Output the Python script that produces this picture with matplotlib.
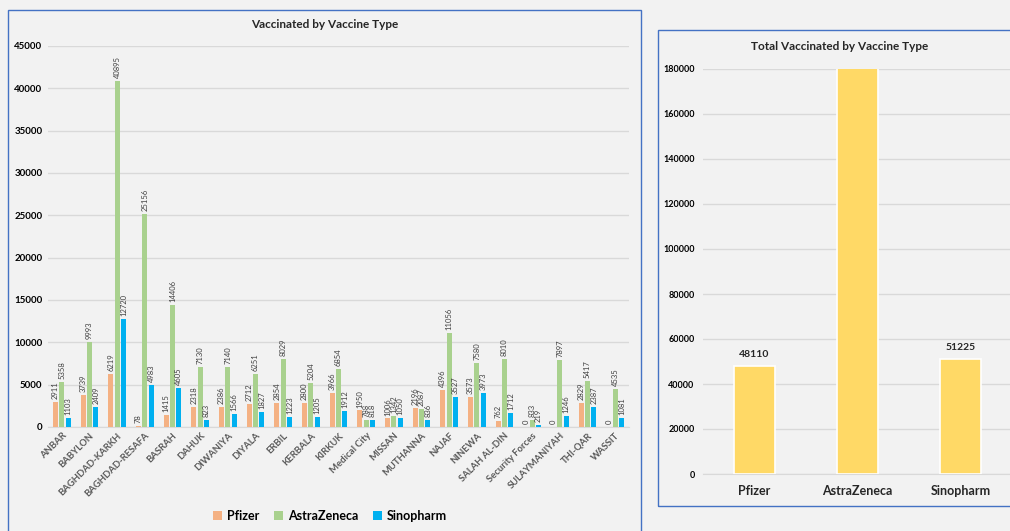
import matplotlib
matplotlib.use("Agg")
import matplotlib.pyplot as plt
import numpy as np
from matplotlib.patches import Rectangle

regions = ["ANBAR", "BABYLON", "BAGHDAD-KARKH", "BAGHDAD-RESAFA", "BASRAH", "DAHUK",
           "DIWANIYA", "DIYALA", "ERBIL", "KERBALA", "KIRKUK", "Medical City", "MISSAN",
           "MUTHANNA", "NAJAF", "NINEWA", "SALAH AL-DIN", "Security Forces",
           "SULAYMANIYAH", "THI-QAR", "WASSIT"]
pfizer = [2911, 3739, 6219, 78, 1415, 2318, 2386, 2712, 2854, 2800, 3966, 1950, 1006,
          2196, 4396, 3573, 762, 0, 0, 2829, 0]
astra = [5358, 9993, 40895, 25156, 14406, 7130, 7140, 6251, 8029, 5204, 6854, 788, 1342,
         2087, 11056, 7580, 8010, 833, 7897, 5417, 4535]
sino = [1103, 2409, 12720, 4983, 4605, 823, 1566, 1827, 1223, 1205, 1912, 818, 1050,
        836, 3527, 3973, 1712, 219, 1246, 2387, 1081]
series_names = ["Pfizer", "AstraZeneca", "Sinopharm"]
series_colors = ["#f4b183", "#a9d18e", "#00b0f0"]

total_names = ["Pfizer", "AstraZeneca", "Sinopharm"]
totals = [48110, 185961, 51225]

plt.rcParams['font.family'] = ['Lato', 'DejaVu Sans']
BG = "#f2f2f2"
fig = plt.figure(figsize=(10.10, 5.31), dpi=100, facecolor=BG)

# panel borders
fig.patches.append(Rectangle((8/1010, -0.05), (641-8)/1010, 1 - 10/531 + 0.05,
                             transform=fig.transFigure, fill=False, edgecolor="#4472c4",
                             linewidth=1.0, zorder=0))
fig.patches.append(Rectangle((658/1010, 1 - 506/531), 0.5, (506-30)/531,
                             transform=fig.transFigure, fill=False, edgecolor="#4472c4",
                             linewidth=1.0, zorder=0))

# ---- left chart
ax = fig.add_axes([48/1010, 1 - 427/531, (629-48)/1010, (427-46)/531])
ax.set_facecolor(BG)
x = np.arange(len(regions))
w = 0.19
off = 0.23
for i, (vals, col) in enumerate(zip([pfizer, astra, sino], series_colors)):
    xs = x + (i - 1) * off
    ax.bar(xs, vals, width=w, color=col, label=series_names[i], zorder=3)
    for xi, v in zip(xs, vals):
        ax.text(xi, v + 350, str(v), rotation=90, ha="center", va="bottom",
                fontsize=5.5, color="#404040", zorder=4)
ax.set_xlim(-0.5, len(regions) - 0.5)
ax.set_ylim(0, 45000)
ax.set_yticks(np.arange(0, 45001, 5000))
ax.yaxis.grid(True, color="#d9d9d9", linewidth=1.0, zorder=0)
ax.set_axisbelow(True)
for s in ["top", "right", "left"]:
    ax.spines[s].set_visible(False)
ax.spines["bottom"].set_color("#d9d9d9")
ax.tick_params(axis="y", length=0, labelsize=7, pad=4)
for lbl in ax.get_yticklabels():
    lbl.set_fontweight("bold")
ax.set_xticks(x)
ax.set_xticklabels(regions, rotation=45, ha="right", rotation_mode="anchor",
                   fontsize=6.8, color="#595959", fontweight="bold")
ax.tick_params(axis="x", length=0, pad=3)
fig.text(325/1010, 1 - 25/531, "Vaccinated by Vaccine Type", ha="center", va="center",
         fontsize=8.5, fontweight="bold", color="#262626")
handles, labels = ax.get_legend_handles_labels()
fig.legend(handles, labels, loc="center", bbox_to_anchor=(330/1010, 1 - 516/531),
           ncol=3, frameon=False, handlelength=0.7, handleheight=0.7,
           columnspacing=1.2, handletextpad=0.4, prop={"weight": "bold", "size": 9})

# ---- right chart
ax2 = fig.add_axes([703/1010, 1 - 474/531, (1012-703)/1010, (474-69)/531])
ax2.set_facecolor(BG)
xr = np.arange(len(total_names))
ax2.bar(xr, totals, width=0.39, color="#ffd966", edgecolor="white", linewidth=1.2, zorder=3)
ax2.set_xlim(-0.5, 2.5)
ax2.set_ylim(0, 180000)
ax2.set_yticks(np.arange(0, 180001, 20000))
ax2.yaxis.grid(True, color="#d9d9d9", linewidth=1.0, zorder=0)
ax2.set_axisbelow(True)
for s in ["top", "right", "left"]:
    ax2.spines[s].set_visible(False)
ax2.spines["bottom"].set_color("#d9d9d9")
ax2.tick_params(axis="y", length=0, labelsize=6.5, pad=6)
for lbl in ax2.get_yticklabels():
    lbl.set_fontweight("bold")
ax2.set_xticks(xr)
ax2.set_xticklabels(total_names, fontsize=9, fontweight="bold", color="#262626")
ax2.tick_params(axis="x", length=0, pad=8)
for xi, v in zip(xr, totals):
    if v <= 180000:
        ax2.text(xi, v + 3000, str(v), ha="center", va="bottom", fontsize=7.5,
                 fontweight="bold", color="#262626", zorder=4)
fig.text(840/1010, 1 - 47/531, "Total Vaccinated by Vaccine Type", ha="center",
         va="center", fontsize=8.5, fontweight="bold", color="#262626")

fig.savefig("out.png", dpi=100, facecolor=BG)
